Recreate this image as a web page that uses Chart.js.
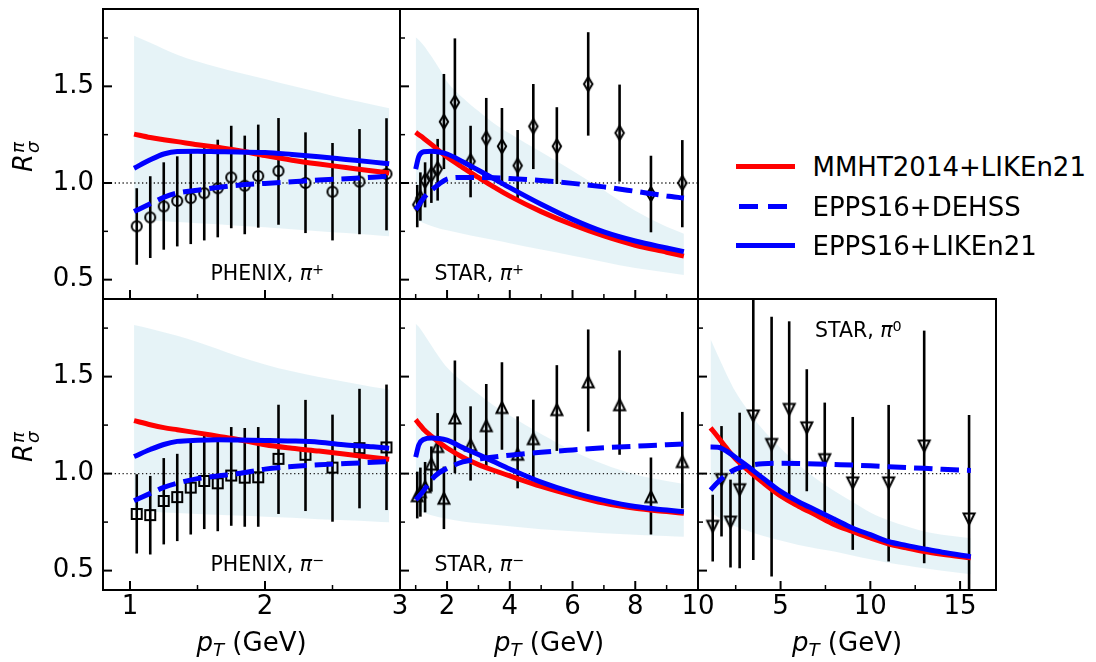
<!DOCTYPE html>
<html>
<head>
<meta charset="utf-8">
<script src="https://cdn.jsdelivr.net/npm/chart.js@4.4.0/dist/chart.umd.min.js"></script>
<style>
body { margin: 0; background: #fff; }
#fig { position: relative; width: 1096px; height: 662px; overflow: hidden; background: #fff; font-family: 'DejaVu Sans'; color: #000; }
#fig canvas { position: absolute; }
.t { position: absolute; white-space: nowrap; line-height: 1; }
.note { font-size: 20.5px; }
.big { font-size: 26px; }
.sup { position: relative; font-size: 0.7em; top: -0.42em; }
.sub { position: relative; font-size: 0.7em; top: 0.3em; }
.ylab { transform: translate(-50%, -50%) rotate(-90deg); }
.xlab { transform: translateX(-50%); }
.st { display: inline-block; position: relative; width: 0.45em; height: 1em; vertical-align: -4px; }
.st i { position: absolute; left: 0.04em; font-size: 0.7em; line-height: 1; }
.key { position: absolute; height: 5px; }
</style>
</head>
<body>
<div id="fig">
  <div class="t big ylab" style="left:23px; top:157px"><i>R</i><span class="st"><i style="top:-1.4px">π</i><i style="top:13.6px">σ</i></span></div>
  <div class="t big ylab" style="left:23px; top:447px"><i>R</i><span class="st"><i style="top:-1.4px">π</i><i style="top:13.6px">σ</i></span></div>

  <div class="t big xlab" style="left:251.5px; top:629px"><i>p</i><i class="sub">T</i> (GeV)</div>
  <div class="t big xlab" style="left:549px; top:629px"><i>p</i><i class="sub">T</i> (GeV)</div>
  <div class="t big xlab" style="left:847px; top:629px"><i>p</i><i class="sub">T</i> (GeV)</div>

  <div class="t note" style="left:210.5px; top:263.2px">PHENIX, <i>π</i><span class="sup">+</span></div>
  <div class="t note" style="left:434.5px; top:262.7px">STAR, <i>π</i><span class="sup">+</span></div>
  <div class="t note" style="left:210.5px; top:553.7px">PHENIX, <i>π</i><span class="sup">−</span></div>
  <div class="t note" style="left:434.5px; top:553.7px">STAR, <i>π</i><span class="sup">−</span></div>
  <div class="t note" style="left:815px; top:319.7px">STAR, <i>π</i><span class="sup">0</span></div>

  <!-- legend -->
  <div class="key" style="left:736px; top:164px; width:59px; background:#ff0000"></div>
  <div class="key" style="left:739px; top:203.5px; width:19px; background:#0000ff"></div>
  <div class="key" style="left:768px; top:203.5px; width:19px; background:#0000ff"></div>
  <div class="key" style="left:736px; top:243px; width:59px; background:#0000ff"></div>
  <div class="t big" style="left:812.5px; top:154.2px">MMHT2014+LIKEn21</div>
  <div class="t big" style="left:812.5px; top:193.5px">EPPS16+DEHSS</div>
  <div class="t big" style="left:812.5px; top:232.8px">EPPS16+LIKEn21</div>
</div>

<script>
// y axis, same for every panel
var yTicks = [0.5, 0.75, 1.0, 1.25, 1.5, 1.75];
var yMajor = [0.5, 1.0, 1.5];

// PHENIX data points (pT)
var phX = [1.05, 1.15, 1.25, 1.35, 1.45, 1.55, 1.65, 1.75, 1.85, 1.95, 2.1, 2.3, 2.5, 2.7, 2.9];
// PHENIX curves grid
var phGrid = [1.03, 1.15, 1.25, 1.35, 1.5, 1.65, 1.8, 2.0, 2.2, 2.4, 2.6, 2.8, 2.92];

// PHENIX pi+
var tlY  = [0.776, 0.822, 0.879, 0.907, 0.922, 0.947, 0.973, 1.029, 0.986, 1.036, 1.062, 1.0, 0.955, 1.007, 1.047];
var tlLo = [0.577, 0.612, 0.655, 0.672, 0.684, 0.703, 0.719, 0.766, 0.735, 0.769, 0.784, 0.741, 0.703, 0.735, 0.755];
var tlHi = [0.973, 1.035, 1.107, 1.138, 1.159, 1.18, 1.224, 1.296, 1.245, 1.302, 1.336, 1.262, 1.207, 1.279, 1.335];
var tlRed  = [1.253, 1.235, 1.224, 1.214, 1.198, 1.185, 1.168, 1.142, 1.118, 1.098, 1.08, 1.062, 1.052];
var tlDash = [0.852, 0.893, 0.926, 0.948, 0.963, 0.977, 0.988, 0.998, 1.006, 1.015, 1.022, 1.03, 1.036];
var tlBlue = [1.076, 1.12, 1.15, 1.163, 1.164, 1.162, 1.16, 1.158, 1.148, 1.136, 1.122, 1.108, 1.10];
var tlBandHi = [1.762, 1.725, 1.693, 1.664, 1.628, 1.599, 1.572, 1.538, 1.503, 1.469, 1.434, 1.405, 1.386];
var tlBandLo = [0.81, 0.806, 0.802, 0.798, 0.792, 0.786, 0.779, 0.771, 0.761, 0.751, 0.741, 0.731, 0.724];

// PHENIX pi-
var blY  = [0.792, 0.786, 0.859, 0.879, 0.928, 0.962, 0.95, 0.99, 0.979, 0.981, 1.076, 1.097, 1.031, 1.131, 1.135];
var blLo = [0.588, 0.583, 0.635, 0.652, 0.686, 0.714, 0.703, 0.731, 0.726, 0.726, 0.792, 0.807, 0.752, 0.821, 0.812];
var blHi = [0.997, 0.988, 1.08, 1.102, 1.166, 1.2, 1.2, 1.24, 1.235, 1.24, 1.355, 1.38, 1.304, 1.437, 1.459];
var blRed  = [1.273, 1.252, 1.237, 1.226, 1.21, 1.193, 1.176, 1.149, 1.131, 1.116, 1.1, 1.083, 1.074];
var blDash = [0.86, 0.898, 0.929, 0.951, 0.974, 0.988, 1.0, 1.023, 1.036, 1.045, 1.052, 1.058, 1.062];
var blBlue = [1.088, 1.124, 1.15, 1.166, 1.172, 1.174, 1.173, 1.171, 1.168, 1.162, 1.148, 1.138, 1.131];
var blBandHi = [1.766, 1.747, 1.729, 1.71, 1.678, 1.642, 1.605, 1.563, 1.527, 1.498, 1.472, 1.447, 1.433];
var blBandLo = [0.807, 0.803, 0.8, 0.797, 0.792, 0.788, 0.784, 0.778, 0.772, 0.765, 0.759, 0.753, 0.749];

// STAR charged pions
var stX = [1.05, 1.15, 1.3, 1.5, 1.7, 1.9, 2.25, 2.75, 3.25, 3.75, 4.25, 4.75, 5.5, 6.5, 7.5, 8.5, 9.5];
var stGrid = [1.0, 1.1, 1.25, 1.5, 1.75, 2.0, 2.5, 3.0, 3.5, 4.0, 5.0, 6.0, 7.0, 8.0, 9.0, 9.55];

// STAR pi+
var tmY  = [0.888, 0.922, 1.012, 1.043, 1.072, 1.317, 1.417, 1.112, 1.231, 1.19, 1.09, 1.293, 1.19, 1.512, 1.259, 0.943, 1.0];
var tmLo = [0.771, 0.805, 0.874, 0.897, 0.909, 1.072, 1.107, 0.926, 1.021, 0.986, 0.909, 1.072, 0.995, 1.245, 1.007, 0.745, 0.771];
var tmHi = [0.99, 1.055, 1.107, 1.176, 1.228, 1.564, 1.748, 1.296, 1.44, 1.388, 1.274, 1.512, 1.392, 1.78, 1.509, 1.141, 1.222];
var tmRed  = [1.262, 1.25, 1.232, 1.2, 1.166, 1.134, 1.08, 1.029, 0.979, 0.932, 0.852, 0.784, 0.726, 0.678, 0.642, 0.622];
var tmDash = [0.862, 0.886, 0.922, 0.962, 0.995, 1.02, 1.029, 1.029, 1.027, 1.023, 1.013, 0.998, 0.98, 0.957, 0.933, 0.922];
var tmBlue = [1.072, 1.138, 1.162, 1.164, 1.16, 1.15, 1.11, 1.066, 1.021, 0.976, 0.89, 0.812, 0.747, 0.7, 0.664, 0.645];
var tmBandHi = [1.754, 1.74, 1.713, 1.655, 1.592, 1.524, 1.441, 1.372, 1.308, 1.256, 1.16, 1.064, 0.962, 0.856, 0.774, 0.738];
var tmBandLo = [0.814, 0.805, 0.793, 0.778, 0.765, 0.755, 0.738, 0.721, 0.705, 0.689, 0.656, 0.624, 0.592, 0.56, 0.537, 0.524];

// STAR pi-
var bmY  = [0.886, 0.907, 0.933, 1.049, 1.14, 0.873, 1.287, 1.148, 1.247, 1.341, 1.1, 1.18, 1.33, 1.473, 1.355, 0.881, 1.062];
var bmLo = [0.769, 0.778, 0.8, 0.907, 0.993, 0.714, 1.002, 0.964, 1.028, 1.123, 0.924, 0.979, 1.117, 1.217, 1.097, 0.686, 0.821];
var bmHi = [1.01, 1.031, 1.06, 1.14, 1.312, 1.036, 1.583, 1.347, 1.462, 1.574, 1.295, 1.381, 1.559, 1.743, 1.635, 1.083, 1.318];
var bmRed  = [1.278, 1.258, 1.229, 1.193, 1.16, 1.132, 1.084, 1.046, 1.016, 0.988, 0.934, 0.888, 0.848, 0.821, 0.804, 0.795];
var bmDash = [0.865, 0.882, 0.912, 0.968, 1.005, 1.027, 1.06, 1.075, 1.086, 1.095, 1.11, 1.122, 1.133, 1.141, 1.149, 1.153];
var bmBlue = [1.085, 1.148, 1.176, 1.183, 1.181, 1.172, 1.134, 1.098, 1.061, 1.024, 0.956, 0.903, 0.862, 0.83, 0.812, 0.803];
var bmBandHi = [1.773, 1.757, 1.722, 1.66, 1.6, 1.547, 1.473, 1.41, 1.35, 1.299, 1.204, 1.118, 1.048, 0.995, 0.962, 0.946];
var bmBandLo = [0.821, 0.812, 0.8, 0.785, 0.775, 0.767, 0.753, 0.744, 0.736, 0.728, 0.713, 0.703, 0.693, 0.685, 0.678, 0.674];

// STAR pi0
var brX  = [1.22, 1.71, 2.21, 2.72, 3.48, 4.5, 5.48, 6.46, 7.46, 9.02, 11.02, 13.0, 15.5];
var brY  = [0.728, 0.969, 0.75, 0.917, 1.297, 1.15, 1.331, 1.236, 1.072, 0.952, 0.952, 1.142, 0.766];
var brLo = [0.547, 0.676, 0.516, 0.512, 0.555, 0.469, 0.865, 0.909, 0.788, 0.607, 0.547, 0.538, 0.23];
var brHi = [0.891, 1.245, 0.969, 1.314, 2.04, 1.809, 1.785, 1.538, 1.366, 1.292, 1.354, 1.737, 1.302];
var brGrid = [1.1, 1.5, 2.0, 2.5, 3.0, 4.0, 5.0, 6.0, 7.0, 8.0, 9.0, 10.0, 11.0, 12.0, 13.0, 14.0, 15.6];
var brRed  = [1.236, 1.19, 1.13, 1.075, 1.032, 0.955, 0.885, 0.832, 0.785, 0.737, 0.702, 0.668, 0.638, 0.617, 0.598, 0.584, 0.566];
var brDash = [0.915, 0.955, 0.995, 1.023, 1.038, 1.051, 1.053, 1.052, 1.05, 1.047, 1.044, 1.04, 1.035, 1.031, 1.027, 1.022, 1.016];
var brBlue = [1.137, 1.136, 1.115, 1.083, 1.049, 0.978, 0.908, 0.855, 0.81, 0.765, 0.72, 0.685, 0.65, 0.63, 0.612, 0.595, 0.572];
var brBandHi = [1.692, 1.61, 1.51, 1.42, 1.35, 1.228, 1.132, 1.045, 0.972, 0.91, 0.855, 0.8, 0.76, 0.728, 0.702, 0.685, 0.667];
var brBandLo = [0.805, 0.776, 0.748, 0.727, 0.71, 0.679, 0.655, 0.632, 0.614, 0.598, 0.578, 0.558, 0.541, 0.526, 0.512, 0.499, 0.481];

Chart.defaults.font.family = 'DejaVu Sans';
Chart.defaults.font.size = 26;
Chart.defaults.color = '#000';

var bandColor = 'rgba(173,216,230,0.3)';

function pts(xs, ys) {
	return xs.map(function(x, i) { return {x: x, y: ys[i]}; });
}
function bars(xs, lo, hi) {
	return xs.map(function(x, i) { return {x: x, y: [lo[i], hi[i]]}; });
}

// hollow marker glyphs
function marker(shape) {
	var c = document.createElement('canvas');
	c.width = 20; c.height = 20;
	var g = c.getContext('2d');
	g.strokeStyle = '#000';
	g.lineWidth = 2;
	g.beginPath();
	if (shape == 'o') g.arc(10, 10, 5, 0, 2 * Math.PI);
	if (shape == 's') g.rect(5, 5, 10, 10);
	if (shape == 'd') { g.moveTo(10, 3); g.lineTo(14.2, 10); g.lineTo(10, 17); g.lineTo(5.8, 10); g.closePath(); }
	if (shape == '^') { g.moveTo(10, 4.5); g.lineTo(15.5, 15.5); g.lineTo(4.5, 15.5); g.closePath(); }
	if (shape == 'v') { g.moveTo(10, 15.5); g.lineTo(15.5, 4.5); g.lineTo(4.5, 4.5); g.closePath(); }
	g.stroke();
	return c;
}

// frame and inward ticks
function frame(p) {
	return {
		id: 'frame',
		afterDraw: function(chart) {
			var ctx = chart.ctx, a = chart.chartArea, sx = chart.scales.x, sy = chart.scales.y;
			ctx.save();
			ctx.strokeStyle = '#000';
			sx.ticks.forEach(function(t) {
				var major = p.xm.indexOf(t.value) >= 0;
				var px = sx.getPixelForValue(t.value);
				ctx.lineWidth = major ? 2 : 1.5;
				ctx.beginPath(); ctx.moveTo(px, a.bottom); ctx.lineTo(px, a.bottom - (major ? 9 : 5)); ctx.stroke();
			});
			sy.ticks.forEach(function(t) {
				var major = yMajor.indexOf(t.value) >= 0;
				var py = sy.getPixelForValue(t.value);
				ctx.lineWidth = major ? 2 : 1.5;
				ctx.beginPath(); ctx.moveTo(a.left, py); ctx.lineTo(a.left + (major ? 9 : 5), py); ctx.stroke();
			});
			ctx.lineWidth = 2;
			ctx.strokeRect(a.left, a.top, a.right - a.left, a.bottom - a.top);
			ctx.restore();
		}
	};
}

var panels = [
	//PHENIX pi+
	{left: 103, right: 400, top: 9, bottom: 299, xmin: 0.8, xmax: 3, dotMax: 3, xt: [1, 1.5, 2, 2.5, 3], xm: [1, 2, 3], xLab: false, yLab: true,
	 x: phX, y: tlY, lo: tlLo, hi: tlHi, grid: phGrid, red: tlRed, dash: tlDash, blue: tlBlue, bandHi: tlBandHi, bandLo: tlBandLo, mark: 'o'},
	//STAR pi+
	{left: 400, right: 698, top: 9, bottom: 299, xmin: 0.5, xmax: 10, dotMax: 10, xt: [1, 2, 3, 4, 5, 6, 7, 8, 9, 10], xm: [2, 4, 6, 8, 10], xLab: false, yLab: false,
	 x: stX, y: tmY, lo: tmLo, hi: tmHi, grid: stGrid, red: tmRed, dash: tmDash, blue: tmBlue, bandHi: tmBandHi, bandLo: tmBandLo, mark: 'd'},
	//PHENIX pi-
	{left: 103, right: 400, top: 299, bottom: 590, xmin: 0.8, xmax: 3, dotMax: 3, xt: [1, 1.5, 2, 2.5, 3], xm: [1, 2, 3], xLab: true, yLab: true,
	 x: phX, y: blY, lo: blLo, hi: blHi, grid: phGrid, red: blRed, dash: blDash, blue: blBlue, bandHi: blBandHi, bandLo: blBandLo, mark: 's'},
	//STAR pi-
	{left: 400, right: 698, top: 299, bottom: 590, xmin: 0.5, xmax: 10, dotMax: 10, xt: [1, 2, 3, 4, 5, 6, 7, 8, 9, 10], xm: [2, 4, 6, 8, 10], xLab: true, yLab: false,
	 x: stX, y: bmY, lo: bmLo, hi: bmHi, grid: stGrid, red: bmRed, dash: bmDash, blue: bmBlue, bandHi: bmBandHi, bandLo: bmBandLo, mark: '^'},
	//STAR pi0
	{left: 698, right: 996, top: 299, bottom: 590, xmin: 0.4, xmax: 17, dotMax: 15, xt: [2.5, 5, 7.5, 10, 12.5, 15], xm: [5, 10, 15], xLab: true, yLab: false,
	 x: brX, y: brY, lo: brLo, hi: brHi, grid: brGrid, red: brRed, dash: brDash, blue: brBlue, bandHi: brBandHi, bandLo: brBandLo, mark: 'v'}
];

var fig = document.getElementById('fig');

// room kept for the axis boxes (tick labels are clipped to them)
var yBox = 80, xBox = 60;

panels.forEach(function(p) {
	var w = p.right - p.left, h = p.bottom - p.top;
	var cv = document.createElement('canvas');
	cv.width = w + 300; cv.height = h + 200;
	cv.style.left = (p.left - 200) + 'px';
	cv.style.top = (p.top - 100) + 'px';
	cv.style.width = cv.width + 'px';
	cv.style.height = cv.height + 'px';
	fig.insertBefore(cv, fig.firstChild);

	var curve = function(vals, color, dash, order) {
		return {data: pts(p.grid, vals), borderColor: color, borderWidth: 5, borderDash: dash, pointRadius: 0,
			fill: false, cubicInterpolationMode: 'monotone', order: order};
	};

	new Chart(cv, {
		type: 'line',
		data: {
			datasets: [
				{data: pts(p.grid, p.bandHi), fill: '+1', backgroundColor: bandColor, borderColor: 'transparent', borderWidth: 0, pointRadius: 0, cubicInterpolationMode: 'monotone', order: 10},
				{data: pts(p.grid, p.bandLo), fill: false, borderColor: 'transparent', borderWidth: 0, pointRadius: 0, cubicInterpolationMode: 'monotone', order: 10},
				{data: [{x: p.xmin, y: 1}, {x: p.dotMax, y: 1}], borderColor: '#222', borderWidth: 1.3, borderDash: [1.3, 2.6], pointRadius: 0, fill: false, order: 9},
				{type: 'bar', data: bars(p.x, p.lo, p.hi), backgroundColor: '#000', borderWidth: 0, barThickness: 2.6, grouped: false, inflateAmount: 0, order: 8},
				{data: pts(p.x, p.y), showLine: false, pointStyle: marker(p.mark), pointRadius: 6, order: 7},
				curve(p.red, '#ff0000', [], 3),
				curve(p.dash, '#0000ff', [18.5, 8], 2),
				curve(p.blue, '#0000ff', [], 1)
			]
		},
		options: {
			responsive: false,
			animation: false,
			devicePixelRatio: 1,
			layout: {padding: {left: 200 - yBox, right: 100, top: 100, bottom: 100 - xBox}},
			plugins: {legend: {display: false}, tooltip: {enabled: false}},
			scales: {
				x: {
					type: 'linear', min: p.xmin, max: p.xmax, offset: false,
					grid: {display: false, drawTicks: false, offset: false}, border: {display: false},
					afterBuildTicks: function(s) { s.ticks = p.xt.map(function(v) { return {value: v}; }); },
					afterFit: function(s) { s.height = xBox; },
					ticks: {display: p.xLab, autoSkip: false, maxRotation: 0, padding: 2,
						callback: function(v) { return p.xm.indexOf(v) >= 0 ? String(v) : ''; }}
				},
				y: {
					type: 'linear', min: 0.4, max: 1.9, beginAtZero: false,
					grid: {display: false, drawTicks: false}, border: {display: false},
					afterBuildTicks: function(s) { s.ticks = yTicks.map(function(v) { return {value: v}; }); },
					afterFit: function(s) { s.width = yBox; },
					ticks: {display: p.yLab, autoSkip: false, padding: 9,
						callback: function(v) { return yMajor.indexOf(v) >= 0 ? v.toFixed(1) : ''; }}
				}
			}
		},
		plugins: [frame(p)]
	});
});
</script>
</body>
</html>
